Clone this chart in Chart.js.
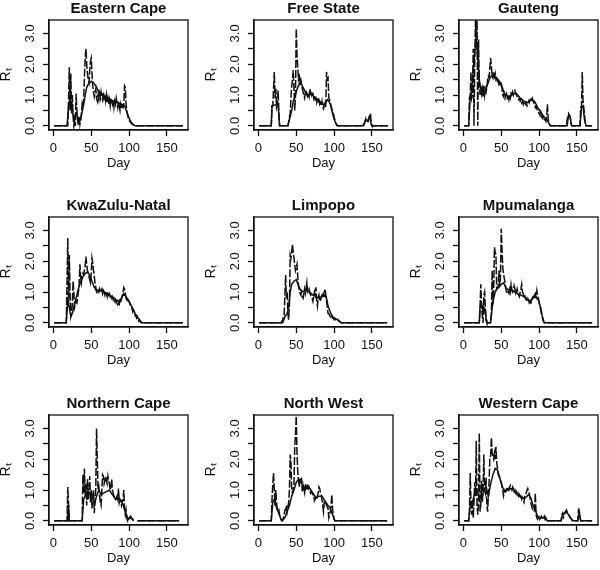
<!DOCTYPE html>
<html>
<head>
<meta charset="utf-8">
<script src="https://cdn.jsdelivr.net/npm/chart.js@4/dist/chart.umd.min.js"></script>
<style>
  html, body { margin:0; padding:0; background:#fff; width:600px; height:570px; overflow:hidden; }
  canvas { position:absolute; }
</style>
</head>
<body>
<script>
// ---------- labels / ticks ----------
const provinces = ['Eastern Cape','Free State','Gauteng','KwaZulu-Natal','Limpopo','Mpumalanga','Northern Cape','North West','Western Cape'];
const xTickVals = [0, 50, 100, 150];
const xTickLabels = ['0', '50', '100', '150'];
const yTickVals = [0, 0.5, 1, 1.5, 2, 2.5, 3];
const yTickLabels = ['0.0', '', '1.0', '', '2.0', '', '3.0'];

// ---------- data: [day, Rt] ----------
// dashed (daily, spiky) estimate and solid (smoother) estimate per province
const ecSpiky = [[1,0],[19,0],[20,0.8],[21,1.9],[22,0.5],[23,1.7],[24,0.4],[25,1.0],[26,0.3],[27,0],[28,0.2],[29,0],[30,1.05],[31,0.5],[32,0.2],[33,0],[34,0.3],[35,0.05],[36,0.2],[37,0.4],[38,0.7],[39,0.6],[40,0.9],[41,1.6],[42,2.2],[43,2.5],[44,2.0],[45,1.7],[46,1.5],[47,1.4],[48,1.8],[49,2.1],[50,2.2],[51,1.7],[52,1.3],[53,1.1],[54,0.95],[55,1.1],[56,1.2],[57,0.9],[58,0.8],[59,1.0],[60,0.85],[61,1.05],[62,0.9],[63,1.1],[64,0.95],[65,0.85],[66,1.1],[67,0.9],[68,1.0],[69,0.8],[70,1.0],[71,0.75],[72,0.9],[73,0.7],[74,0.85],[75,0.65],[76,0.9],[77,0.8],[78,0.7],[79,0.85],[80,0.6],[81,0.8],[82,0.7],[83,0.9],[84,0.75],[85,0.6],[86,0.8],[87,0.65],[88,0.5],[89,0.7],[90,0.55],[91,0.65],[92,0.6],[93,0.7],[94,1.3],[95,1.25],[96,0.7],[97,0.5],[98,0.35],[99,0.25],[100,0.2],[101,0.15],[102,0.1],[103,0.1],[104,0.05],[105,0.05],[106,0.02],[107,0],[171,0]];
const ecSmooth = [[1,0],[18,0],[20,0.6],[22,0.8],[24,0.6],[26,0.4],[28,0.2],[30,0.4],[32,0.3],[34,0.15],[36,0.2],[38,0.45],[40,0.7],[42,1.0],[44,1.25],[46,1.35],[48,1.4],[50,1.45],[53,1.4],[56,1.3],[60,1.1],[65,1.0],[70,0.95],[75,0.85],[80,0.8],[85,0.75],[90,0.7],[94,0.65],[97,0.45],[100,0.25],[103,0.1],[106,0.03],[108,0],[171,0]];

const fsSpiky = [[1,0],[17,0],[18,0.65],[19,0.65],[20,1.2],[21,1.75],[22,0.9],[23,1.2],[24,0.6],[25,0.7],[26,1.15],[27,0.5],[28,0],[39,0],[40,0.15],[41,0.3],[42,0.4],[43,0.9],[44,1.3],[45,1.5],[46,1.8],[47,1.2],[48,0.5],[49,1.0],[50,3.15],[51,2.3],[52,1.9],[53,1.5],[54,1.6],[55,1.4],[56,1.5],[57,1.35],[58,1.2],[59,1.1],[60,1.0],[61,0.9],[62,1.05],[63,1.15],[64,1.0],[65,0.95],[66,1.05],[67,0.95],[68,1.2],[69,1.1],[70,1.0],[71,1.1],[72,1.05],[73,0.9],[74,1.0],[75,0.85],[76,0.9],[77,0.75],[78,0.85],[79,0.8],[80,0.9],[81,0.7],[82,0.75],[83,0.65],[84,0.8],[85,0.6],[86,0.55],[87,0.7],[88,0.6],[89,0.65],[90,1.75],[91,1.5],[92,1.55],[93,0.9],[94,0.85],[95,0.75],[96,0.65],[97,0.55],[98,0.5],[99,0.4],[100,0.3],[101,0.2],[102,0.1],[103,0.05],[104,0],[138,0],[140,0.1],[142,0.25],[143,0.2],[145,0.15],[147,0.35],[148,0.4],[149,0.1],[150,0],[171,0]];
const fsSmooth = [[1,0],[17,0],[18,0.65],[26,0.7],[28,0],[39,0],[42,0.3],[44,0.5],[46,0.8],[48,0.9],[50,1.1],[52,1.25],[55,1.4],[58,1.3],[62,1.1],[66,1.0],[70,1.05],[75,0.9],[80,0.8],[85,0.7],[88,0.7],[91,0.85],[93,0.8],[95,0.7],[97,0.5],[99,0.3],[101,0.15],[103,0.05],[105,0],[139,0],[142,0.2],[144,0.15],[147,0.3],[149,0.05],[150,0],[171,0]];

const gpSpiky = [[1,0],[7,0],[8,0.9],[9,1.0],[10,1.75],[11,0.9],[12,1.0],[13,2.5],[14,0],[15,2.2],[16,3.43],[17,2.6],[18,3.43],[19,0],[20,2.8],[21,1.4],[22,1.0],[23,1.3],[24,1.05],[25,1.2],[26,0.95],[27,1.3],[28,1.0],[29,1.2],[30,1.1],[31,1.25],[32,1.5],[33,1.6],[34,1.55],[35,1.9],[36,2.2],[37,1.9],[38,1.6],[39,1.55],[40,1.75],[41,1.6],[42,1.7],[43,1.5],[44,1.55],[45,1.45],[46,1.5],[47,1.35],[48,1.4],[49,1.3],[50,1.35],[51,1.2],[52,1.0],[53,0.95],[54,1.05],[55,0.9],[56,1.0],[57,1.05],[58,0.9],[59,0.95],[60,0.85],[61,1.0],[62,0.9],[63,1.05],[64,1.0],[65,1.1],[66,1.0],[67,1.1],[68,1.15],[69,1.05],[70,1.0],[71,0.95],[72,0.9],[73,0.85],[74,0.9],[75,0.8],[76,0.85],[77,0.75],[78,0.8],[79,0.7],[80,0.8],[81,0.75],[82,0.7],[83,0.75],[84,0.65],[85,0.7],[86,0.8],[87,0.75],[88,0.85],[89,0.9],[90,0.85],[91,0.9],[92,0.8],[93,0.75],[94,0.7],[95,0.6],[96,0.65],[97,0.55],[98,0.5],[99,0.45],[100,0.4],[101,0.35],[102,0.45],[103,0.3],[104,0.35],[105,0.25],[106,0.3],[107,0.2],[108,0.2],[109,0.15],[110,0.3],[111,0.7],[112,0.2],[113,0.1],[114,0.05],[115,0],[136,0],[137,0.2],[139,0.4],[140,0.35],[141,0.3],[142,0.1],[143,0],[154,0],[155,0.6],[156,0.6],[157,1.75],[158,0.8],[159,0.6],[160,0.35],[161,0.1],[162,0],[170,0]];
const gpSmooth = [[1,0],[7,0],[9,0.9],[11,1.2],[13,1.8],[15,2.4],[17,2.85],[19,2.2],[21,1.5],[23,1.2],[26,1.1],[29,1.15],[32,1.35],[35,1.55],[38,1.65],[42,1.6],[46,1.5],[50,1.35],[54,1.05],[58,0.95],[62,0.95],[66,1.05],[70,1.05],[75,0.9],[80,0.8],[85,0.75],[90,0.85],[94,0.8],[98,0.6],[102,0.45],[106,0.3],[110,0.2],[113,0.08],[115,0],[137,0],[139,0.35],[141,0.3],[143,0],[154,0],[156,0.6],[158,0.65],[160,0.2],[162,0],[170,0]];

const kznSpiky = [[1,0],[17,0],[18,1.3],[19,2.75],[20,0.6],[21,2.2],[22,1.0],[23,0.2],[24,0.3],[25,0.6],[26,1.35],[27,1.0],[28,0.5],[29,0.6],[30,0.7],[31,0.65],[32,0.8],[33,1.0],[34,1.2],[35,1.9],[36,1.5],[37,1.3],[38,1.5],[39,1.6],[40,1.55],[41,1.7],[42,1.85],[43,2.15],[44,1.9],[45,1.7],[46,1.6],[47,1.5],[48,1.4],[49,1.3],[50,1.6],[51,2.1],[52,1.95],[53,1.7],[54,1.5],[55,1.3],[56,1.15],[57,1.0],[58,0.95],[59,1.05],[60,1.0],[61,1.1],[62,1.0],[63,1.05],[64,1.1],[65,0.95],[66,1.05],[67,1.0],[68,0.9],[69,1.0],[70,0.95],[71,0.85],[72,1.0],[73,0.9],[74,0.95],[75,0.85],[76,0.9],[77,0.8],[78,0.85],[79,0.75],[80,0.8],[81,0.7],[82,0.75],[83,0.65],[84,0.7],[85,0.6],[86,0.65],[87,0.6],[88,0.7],[89,0.65],[90,0.8],[91,0.9],[92,1.0],[93,1.15],[94,1.1],[95,0.95],[96,0.8],[97,0.75],[98,0.8],[99,0.7],[100,0.7],[101,0.6],[102,0.55],[103,0.5],[104,0.45],[105,0.35],[106,0.4],[107,0.3],[108,0.25],[109,0.2],[110,0.15],[111,0.2],[112,0.1],[113,0.05],[114,0.1],[115,0.05],[116,0],[171,0]];
const kznSmooth = [[1,0],[17,0],[19,0.7],[21,0.5],[23,0.2],[25,0.3],[27,0.5],[30,0.8],[33,1.1],[36,1.35],[39,1.5],[42,1.6],[45,1.65],[48,1.55],[51,1.35],[54,1.15],[57,1.05],[62,1.05],[67,1.0],[72,0.95],[77,0.85],[82,0.75],[86,0.7],[90,0.8],[93,0.95],[96,0.85],[100,0.7],[104,0.5],[108,0.3],[112,0.15],[115,0.05],[117,0],[171,0]];

const lpSpiky = [[1,0],[30,0],[31,0.05],[32,0.1],[33,0.2],[34,0.25],[35,0.9],[36,1.55],[37,0.8],[38,1.0],[39,0.3],[40,0.1],[41,0.6],[42,2.2],[43,2.1],[44,2.3],[45,2.55],[46,2.3],[47,2.1],[48,1.9],[49,1.7],[50,1.8],[51,1.9],[52,1.5],[53,1.2],[54,1.05],[55,0.95],[56,0.9],[57,1.0],[58,0.85],[59,0.8],[60,0.95],[61,1.1],[62,0.95],[63,1.1],[64,1.3],[65,1.0],[66,1.05],[67,1.1],[68,0.95],[69,0.9],[70,0.85],[71,0.8],[72,0.7],[73,0.85],[74,1.0],[75,0.9],[76,1.15],[77,0.75],[78,0.55],[79,0.8],[80,0.9],[81,0.75],[82,0.7],[83,0.85],[84,0.9],[85,0.8],[86,0.95],[87,1.0],[88,1.1],[89,0.9],[90,0.75],[91,0.5],[92,0.3],[93,0.3],[94,0.25],[95,0.2],[96,0.25],[97,0.2],[98,0.15],[99,0.15],[100,0.1],[101,0.12],[102,0.1],[103,0.1],[104,0.08],[105,0.1],[106,0.05],[107,0.05],[108,0.02],[109,0],[170,0]];
const lpSmooth = [[1,0],[32,0],[35,0.2],[38,0.3],[40,0.5],[42,1.0],[44,1.25],[47,1.35],[50,1.4],[53,1.2],[56,1.05],[60,1.0],[64,1.05],[68,1.0],[72,0.9],[76,0.85],[80,0.8],[84,0.85],[88,0.9],[90,0.8],[92,0.55],[95,0.35],[98,0.2],[101,0.15],[105,0.1],[108,0.03],[110,0],[170,0]];

const mpSpiky = [[1,0],[21,0],[22,0.55],[23,1.25],[24,0.55],[25,0.2],[26,0],[27,0.9],[28,1.0],[29,0.5],[30,0.1],[31,0],[35,0],[36,0.1],[37,0.3],[38,1.7],[39,0.6],[40,1.0],[41,2.45],[42,2.3],[43,2.2],[44,1.1],[45,1.15],[46,1.2],[47,1.7],[48,1.2],[49,1.5],[50,3.05],[51,2.4],[52,1.8],[53,1.6],[54,1.45],[55,1.3],[56,1.1],[57,1.0],[58,0.95],[59,1.0],[60,0.95],[61,1.1],[62,1.0],[63,1.25],[64,1.1],[65,1.0],[66,1.05],[67,1.2],[68,1.1],[69,0.95],[70,1.0],[71,1.1],[72,0.95],[73,0.9],[74,0.85],[75,1.0],[76,1.1],[77,1.25],[78,1.0],[79,0.95],[80,0.85],[81,0.9],[82,0.8],[83,0.75],[84,0.8],[85,0.7],[86,0.75],[87,0.65],[88,0.7],[89,0.6],[90,0.75],[91,0.8],[92,0.85],[93,0.8],[94,0.9],[95,0.95],[96,0.85],[97,1.05],[98,0.9],[99,0.8],[100,0.65],[101,0.55],[102,0.45],[103,0.3],[104,0.2],[105,0.1],[106,0.05],[107,0],[170,0]];
const mpSmooth = [[1,0],[21,0],[22,0.5],[25,0.55],[26,0.3],[27,0.5],[29,0.4],[30,0.1],[31,0],[36,0],[38,0.5],[40,0.8],[42,1.0],[44,1.1],[47,1.15],[50,1.25],[53,1.3],[56,1.15],[60,1.05],[64,1.05],[68,1.0],[72,0.95],[76,0.9],[80,0.85],[84,0.75],[88,0.7],[92,0.8],[96,0.85],[99,0.75],[102,0.5],[104,0.25],[106,0.05],[107,0],[170,0]];

const ncSpiky = [[1,0],[18,0],[19,1.1],[20,0.55],[21,0],[38,0],[38.5,0.75],[39,1.5],[40,0.9],[41,1.7],[42,0.8],[43,1.2],[44,0.5],[45,1.35],[46,0.7],[47,1.0],[48,1.45],[49,0.6],[50,1.0],[51,0.4],[52,0.8],[53,1.0],[54,0.25],[55,0.6],[56,1.05],[57,3.0],[58,2.0],[59,1.0],[60,1.1],[61,0.8],[62,0.6],[63,0.5],[64,1.0],[65,1.5],[66,1.45],[67,1.2],[68,1.3],[69,1.45],[70,1.3],[71,1.2],[72,1.45],[73,1.3],[74,1.2],[75,1.0],[76,1.1],[77,1.35],[78,1.0],[79,0.9],[80,0.8],[81,0.75],[82,0.7],[83,0.75],[84,0.8],[85,0.7],[86,1.05],[87,0.6],[88,0.7],[89,0.65],[90,0.5],[91,0.6],[92,0.7],[93,1.0],[94,0.4],[95,0.2],[96,0.35],[97,0.1],[98,0],[99,0.05],[100,0.1],[101,0.12],[102,0.15],[103,0.1],[104,0.08],[105,0.05],[106,0],[107,null],[111,0],[166,0]];
const ncSmooth = [[1,0],[18,0],[19,0.5],[20,0.5],[21,0],[38,0],[40,0.7],[43,0.85],[46,0.95],[49,0.9],[52,0.7],[55,0.6],[57,0.8],[60,1.0],[63,0.85],[66,0.9],[70,0.95],[74,1.0],[78,0.85],[82,0.7],[86,0.7],[90,0.65],[93,0.45],[96,0.2],[99,0.05],[102,0.1],[104,0.05],[106,0],[107,null],[111,0],[166,0]];

const nwSpiky = [[1,0],[17,0],[18,0.7],[19,1.2],[20,1.55],[21,1.0],[22,0.5],[23,1.0],[24,0.6],[25,0.35],[26,0.3],[27,0.35],[28,0.2],[29,0.1],[30,0.05],[31,0],[32,0],[33,0.1],[34,0.2],[35,0.35],[36,0.35],[37,0.5],[38,0.3],[39,0.45],[40,0.6],[41,1.0],[42,2.15],[43,1.9],[44,1.0],[45,0.9],[46,1.0],[47,1.2],[48,2.4],[49,2.8],[50,3.4],[51,2.2],[52,1.6],[53,1.3],[54,1.1],[55,1.4],[56,1.3],[57,1.35],[58,0.95],[59,1.15],[60,1.0],[61,0.9],[62,1.2],[63,1.05],[64,1.1],[65,1.2],[66,1.05],[67,1.1],[68,1.0],[69,0.9],[70,0.95],[71,0.9],[72,0.85],[73,0.85],[74,0.65],[75,0.7],[76,0.75],[77,0.7],[78,0.8],[79,0.9],[80,1.1],[81,1.05],[82,0.9],[83,0.85],[84,0.7],[85,0.5],[86,0.3],[87,0.6],[88,0.55],[89,0.6],[90,0.5],[91,0.45],[92,0.4],[93,0.1],[94,0.2],[95,0.3],[96,0.5],[97,0.85],[98,0.4],[99,0.2],[100,0.05],[101,0],[170,0]];
const nwSmooth = [[1,0],[17,0],[19,0.6],[21,0.7],[23,0.5],[26,0.3],[29,0.1],[31,0],[33,0.05],[35,0.1],[38,0.3],[41,0.5],[44,0.8],[47,1.0],[50,1.25],[53,1.35],[56,1.25],[60,1.1],[64,1.05],[68,1.05],[72,0.9],[76,0.75],[80,0.8],[84,0.8],[88,0.65],[92,0.5],[95,0.4],[98,0.2],[101,0],[170,0]];

const wcSpiky = [[1,0],[7,0],[8,0.3],[9,1.55],[10,0.6],[11,0.2],[12,0.7],[13,0.1],[14,0.6],[15,1.25],[16,0.8],[17,2.6],[18,0.5],[19,0.2],[20,0.6],[21,2.85],[22,0.3],[23,0.5],[24,1.3],[25,0.6],[26,1.0],[27,2.15],[28,1.0],[29,0.9],[30,1.4],[31,0.5],[32,0.3],[33,0.8],[34,1.3],[35,2.05],[36,2.1],[37,2.7],[38,2.2],[39,2.1],[40,2.0],[41,2.2],[42,2.0],[43,2.4],[44,1.9],[45,1.7],[46,1.5],[47,1.45],[48,1.4],[49,1.3],[50,1.25],[51,1.1],[52,1.0],[53,0.8],[54,0.9],[55,1.0],[56,0.95],[57,1.0],[58,1.1],[59,1.05],[60,1.0],[61,1.1],[62,1.15],[63,1.05],[64,1.0],[65,1.1],[66,1.05],[67,0.95],[68,1.0],[69,0.9],[70,0.95],[71,0.85],[72,0.9],[73,0.8],[74,0.85],[75,0.75],[76,0.8],[77,0.7],[78,0.75],[79,0.65],[80,0.6],[81,0.8],[82,0.85],[83,0.9],[84,1.0],[85,1.05],[86,0.95],[87,0.9],[88,0.75],[89,0.6],[90,0.5],[91,0.4],[92,0.35],[93,0.3],[94,0.35],[95,0.9],[96,0.2],[97,0.1],[98,0.05],[99,0.1],[100,0.15],[101,0.05],[102,0.1],[103,0.15],[104,0.1],[105,0.05],[106,0.1],[107,0.15],[108,0.05],[109,0.1],[110,0.05],[111,0],[129,0],[130,0.2],[131,0.25],[132,0.1],[133,0.15],[134,0.25],[135,0.3],[136,0.35],[137,0.3],[138,0.25],[139,0.2],[140,0.15],[141,0.1],[142,0.08],[143,0.05],[144,0],[151,0],[152,0.35],[153,0.3],[154,0.1],[155,0],[170,0]];
const wcSmooth = [[1,0],[7,0],[9,0.5],[12,0.6],[15,0.9],[18,1.0],[21,0.8],[24,0.7],[27,1.0],[30,1.1],[33,0.8],[36,1.2],[39,1.5],[42,1.7],[45,1.65],[48,1.4],[51,1.15],[54,0.95],[58,1.0],[62,1.05],[66,1.0],[70,0.9],[74,0.8],[78,0.75],[82,0.75],[86,0.85],[89,0.75],[92,0.5],[95,0.35],[98,0.15],[102,0.1],[106,0.1],[110,0.03],[111,0],[129,0],[131,0.2],[135,0.3],[139,0.2],[143,0.05],[145,0],[151,0],[153,0.3],[155,0],[170,0]];

const spikySeries = [ecSpiky, fsSpiky, gpSpiky, kznSpiky, lpSpiky, mpSpiky, ncSpiky, nwSpiky, wcSpiky];
const smoothSeries = [ecSmooth, fsSmooth, gpSmooth, kznSmooth, lpSmooth, mpSmooth, ncSmooth, nwSmooth, wcSmooth];

// ---------- rendering ----------
const FONT = "'Liberation Sans', Arial, Helvetica, sans-serif";
Chart.defaults.font.family = FONT;
Chart.defaults.color = '#111';
const INK = '#111';
const colLeft = [0, 205, 410];
const rowTop = [0, 197, 395];
const CW = 191, CH = 182;

const boxPlugin = {
  id: 'box',
  afterDraw(chart) {
    const { ctx, chartArea: a } = chart;
    ctx.save();
    ctx.strokeStyle = INK;
    ctx.lineWidth = 1.3;
    ctx.strokeRect(a.left, a.top, a.right - a.left, a.bottom - a.top);
    ctx.restore();
  }
};

const toXY = arr => arr.map(p => ({ x: p[0], y: p[1] }));

provinces.forEach((name, i) => {
  const cv = document.createElement('canvas');
  cv.width = CW; cv.height = CH;
  cv.style.left = colLeft[i % 3] + 'px';
  cv.style.top = rowTop[Math.floor(i / 3)] + 'px';
  cv.style.width = CW + 'px'; cv.style.height = CH + 'px';
  document.body.appendChild(cv);

  new Chart(cv, {
    type: 'line',
    data: {
      datasets: [
        { data: toXY(spikySeries[i]), borderColor: INK, borderWidth: 1.5, borderDash: [8, 2], pointRadius: 0, tension: 0, spanGaps: false },
        { data: toXY(smoothSeries[i]), borderColor: INK, borderWidth: 1.5, pointRadius: 0, tension: 0, spanGaps: false }
      ]
    },
    options: {
      responsive: false, animation: false, devicePixelRatio: 1,
      layout: { padding: { left: 0, right: 3, top: 0, bottom: 0 } },
      plugins: {
        legend: { display: false },
        tooltip: { enabled: false },
        title: { display: true, text: name, fullSize: false, color: INK,
                 font: { size: 15, weight: 'bold', family: FONT }, padding: { top: 0, bottom: 2 } }
      },
      scales: {
        x: {
          type: 'linear', min: -5.8, max: 177.8,
          afterBuildTicks: ax => { ax.ticks = xTickVals.map(v => ({ value: v })); },
          afterFit: s => { s.height = 52; },
          ticks: { autoSkip: false, minRotation: 0, maxRotation: 0, padding: 5, color: INK,
                   font: { size: 13 }, callback: v => xTickLabels[xTickVals.indexOf(v)] },
          grid: { drawOnChartArea: false, drawTicks: true, tickLength: 6, tickColor: INK, tickWidth: 1.3 },
          border: { display: true, color: INK, width: 1.3 },
          title: { display: true, text: 'Day', color: INK, font: { size: 13 }, padding: { top: 0, bottom: 10.5 } }
        },
        y: {
          type: 'linear', min: -0.135, max: 3.435,
          afterBuildTicks: ax => { ax.ticks = yTickVals.map(v => ({ value: v })); },
          afterFit: s => { s.width = 49; },
          ticks: { autoSkip: false, minRotation: 90, maxRotation: 90, crossAlign: 'center', padding: 4, color: INK,
                   font: { size: 13 }, callback: v => yTickLabels[yTickVals.indexOf(v)] },
          grid: { drawOnChartArea: false, drawTicks: true, tickLength: 6, tickColor: INK, tickWidth: 1.3 },
          border: { display: true, color: INK, width: 1.3 },
          title: { display: true, text: 'Rₜ', color: INK, font: { size: 14 }, padding: { top: -2, bottom: 0 } }
        }
      }
    },
    plugins: [boxPlugin]
  });
});
</script>
</body>
</html>
